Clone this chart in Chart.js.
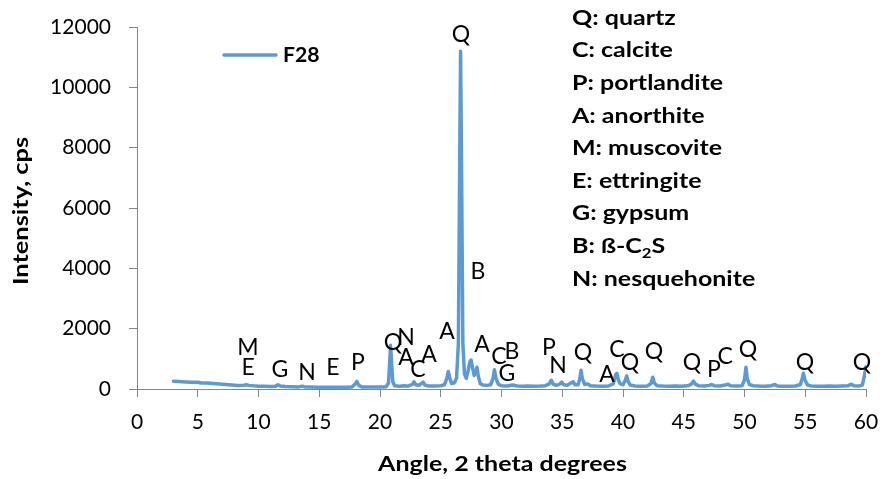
<!DOCTYPE html>
<html>
<head>
<meta charset="utf-8">
<script src="https://cdn.jsdelivr.net/npm/chart.js@4.4.1/dist/chart.umd.min.js"></script>
<style>
  html, body { margin: 0; padding: 0; background: #fff; }
  #wrap { width: 883px; height: 479px; }
</style>
</head>
<body>
<div id="wrap"><canvas id="c" width="883" height="479"></canvas></div>
<script>
// ---- data ----
const seriesName = "F28";
const xTitle = "Angle, 2 theta degrees";
const yTitle = "Intensity, cps";
const angles = [
  3.0, 3.5, 4.0, 4.5, 5.0, 5.3, 5.8, 6.3, 6.8, 7.3, 7.8, 8.3, 8.8, 9.0, 9.2, 9.6, 10.0, 10.5, 11.0, 11.4,
  11.6, 11.8, 12.2, 12.8, 13.3, 13.6, 13.8, 14.3, 14.8, 15.3, 15.8, 16.3, 16.8, 17.3, 17.7, 18.0, 18.1, 18.25, 18.5, 19.0,
  19.5, 20.0, 20.5, 20.7, 20.8, 20.87, 20.95, 21.05, 21.2, 21.6, 22.0, 22.3, 22.7, 22.8, 22.95, 23.2, 23.45, 23.55, 23.7, 24.0,
  24.5, 25.0, 25.3, 25.5, 25.62, 25.75, 25.9, 26.1, 26.3, 26.45, 26.55, 26.63, 26.72, 26.82, 26.95, 27.1, 27.25, 27.4, 27.5, 27.62,
  27.75, 27.9, 27.98, 28.08, 28.25, 28.5, 28.8, 29.1, 29.3, 29.42, 29.55, 29.75, 30.0, 30.5, 30.9, 31.3, 31.8, 32.2, 32.7, 33.2,
  33.6, 33.9, 34.1, 34.25, 34.5, 34.8, 34.95, 35.1, 35.4, 35.75, 35.9, 36.05, 36.3, 36.45, 36.55, 36.65, 36.85, 37.1, 37.3, 37.8,
  38.3, 38.8, 39.2, 39.4, 39.5, 39.62, 39.75, 40.0, 40.2, 40.3, 40.42, 40.6, 41.0, 41.5, 42.0, 42.3, 42.45, 42.58, 42.8, 43.3,
  43.8, 44.3, 44.8, 45.3, 45.6, 45.8, 45.95, 46.2, 46.7, 47.1, 47.3, 47.5, 48.0, 48.5, 48.65, 48.85, 49.3, 49.8, 50.0, 50.12,
  50.22, 50.4, 50.7, 51.2, 51.7, 52.2, 52.5, 52.7, 53.2, 53.7, 54.2, 54.6, 54.75, 54.85, 54.98, 55.2, 55.5, 56.0, 56.5, 57.0,
  57.5, 58.0, 58.5, 58.8, 59.0, 59.4, 59.7, 59.85, 60.0
];
const counts = [
  260, 245, 235, 220, 225, 200, 195, 180, 165, 150, 135, 120, 125, 140, 120, 105, 95, 90, 85, 90,
  140, 100, 80, 75, 70, 95, 70, 65, 60, 60, 58, 62, 60, 62, 70, 180, 250, 120, 70, 65,
  68, 70, 75, 200, 900, 1450, 900, 250, 110, 90, 110, 95, 160, 240, 140, 120, 190, 230, 130, 100,
  100, 110, 140, 350, 580, 350, 180, 200, 350, 1500, 7000, 11200, 7000, 1500, 500, 350, 600, 900, 960, 700,
  450, 600, 720, 450, 180, 130, 120, 140, 350, 640, 350, 150, 110, 100, 130, 100, 95, 100, 95, 100,
  110, 160, 290, 160, 120, 160, 230, 150, 120, 210, 240, 140, 140, 350, 620, 350, 150, 170, 110, 100,
  95, 100, 170, 480, 520, 300, 180, 140, 300, 430, 250, 130, 100, 95, 100, 180, 390, 200, 110, 100,
  95, 100, 95, 105, 150, 260, 160, 110, 100, 120, 150, 110, 100, 140, 160, 110, 100, 110, 300, 720,
  350, 150, 110, 100, 95, 110, 150, 100, 95, 95, 100, 150, 350, 520, 300, 130, 100, 95, 95, 100,
  95, 100, 105, 160, 110, 100, 130, 400, 740
];
const xTicks = { min: 0, max: 60, step: 5 };
const yTicks = { min: 0, max: 12000, step: 2000 };
// peak annotations: letter, angle, intensity
const peakLetters = ["Q","B","Q","N","A","C","A","A","A","C","B","G","M","E","G","N","E","P","P","N","Q","A","C","Q","Q","Q","P","C","Q","Q","Q"];
const peakAngles  = [26.67,28.07,21.07,22.14,22.14,23.13,24.03,25.51,28.40,29.79,30.86,30.45,9.14,9.14,11.77,13.99,16.13,18.19,33.91,34.65,36.71,38.68,39.51,40.58,42.55,45.68,47.49,48.40,50.29,54.98,59.67];
const peakHeights = [11733,3878,1525,1690,1028,630,1127,1889,1458,1061,1226,497,1359,696,630,530,696,862,1359,762,1193,464,1293,862,1226,862,630,1061,1293,862,862];
const phaseKey = ["Q: quartz","C: calcite","P: portlandite","A: anorthite","M: muscovite","E: ettringite","G: gypsum","B: ß-C|2|S","N: nesquehonite"];

// ---- chart ----
const LINE = "#5B9BD5";
const AXIS = "#868686";
const FONT = "Lato";
const STRETCH = 1.19;

const points = angles.map((a, i) => ({ x: a, y: counts[i] }));

function stretchedText(ctx, text, x, y, sx, align) {
  const w = ctx.measureText(text).width * sx;
  let x0 = x;
  if (align === "center") x0 = x - w / 2;
  ctx.save();
  ctx.translate(x0, y);
  ctx.scale(sx, 1);
  ctx.textAlign = "left";
  ctx.fillText(text, 0, 0);
  ctx.restore();
  return w;
}

const annotations = {
  id: "annotations",
  afterDraw(chart) {
    const ctx = chart.ctx;
    const xs = chart.scales.x, ys = chart.scales.y;
    const area = chart.chartArea;
    ctx.save();
    ctx.fillStyle = "#000";
    ctx.font = "23px " + FONT;
    ctx.textAlign = "center";
    ctx.textBaseline = "middle";
    peakLetters.forEach((t, i) => {
      ctx.fillText(t, xs.getPixelForValue(peakAngles[i]), ys.getPixelForValue(peakHeights[i]));
    });
    // axis titles
    ctx.textBaseline = "alphabetic";
    ctx.font = "bold 20px " + FONT;
    stretchedText(ctx, xTitle, (area.left + area.right) / 2 + 1, 471, 1.25, "center");
    ctx.save();
    ctx.translate(28, (area.top + area.bottom) / 2 + 3);
    ctx.rotate(-Math.PI / 2);
    stretchedText(ctx, yTitle, 0, 0, 1.27, "center");
    ctx.restore();
    // series legend
    ctx.textBaseline = "middle";
    const ds = chart.data.datasets[0];
    ctx.strokeStyle = ds.borderColor;
    ctx.lineWidth = 3.5;
    ctx.lineCap = "round";
    ctx.beginPath();
    ctx.moveTo(224, 55);
    ctx.lineTo(276, 55);
    ctx.stroke();
    ctx.font = "bold 20px " + FONT;
    stretchedText(ctx, ds.label, 283, 56, 1.06, "left");
    // phase key
    phaseKey.forEach((line, i) => {
      const y = 18 + i * 32.6;
      const parts = line.split("|");
      let x = 572;
      parts.forEach((p, j) => {
        if (j % 2 === 1) {
          ctx.font = "bold 14px " + FONT;
          x += stretchedText(ctx, p, x, y + 7, STRETCH, "left");
        } else {
          ctx.font = "bold 21px " + FONT;
          x += stretchedText(ctx, p, x, y, STRETCH, "left");
        }
      });
    });
    ctx.restore();
  }
};

new Chart(document.getElementById("c"), {
  type: "line",
  data: {
    datasets: [{
      label: seriesName,
      data: points,
      borderColor: LINE,
      backgroundColor: LINE,
      borderWidth: 3.5,
      pointRadius: 0,
      tension: 0,
      borderJoinStyle: "round",
      borderCapStyle: "round"
    }]
  },
  options: {
    responsive: false,
    animation: false,
    devicePixelRatio: 1,
    layout: { padding: { top: 27, right: 17, left: 0, bottom: 0 } },
    plugins: { legend: { display: false }, tooltip: { enabled: false } },
    scales: {
      x: {
        type: "linear",
        min: xTicks.min, max: xTicks.max,
        afterFit(s) { s.height = 90; s.paddingLeft = 0; s.paddingRight = 0; },
        ticks: { stepSize: xTicks.step, color: "#000", font: { family: FONT, size: 21 }, padding: 13, maxRotation: 0 },
        grid: { display: true, drawOnChartArea: false, drawTicks: true, tickLength: 8, color: AXIS },
        border: { display: true, color: AXIS, width: 1 },
        title: { display: false, text: xTitle }
      },
      y: {
        min: yTicks.min, max: yTicks.max,
        afterFit(s) { s.width = 137; s.paddingTop = 0; s.paddingBottom = 0; },
        ticks: { stepSize: yTicks.step, color: "#000", font: { family: FONT, size: 21 }, padding: 18, callback: v => String(v) },
        grid: { display: true, drawOnChartArea: false, drawTicks: true, tickLength: 8, color: AXIS },
        border: { display: true, color: AXIS, width: 1 },
        title: { display: false, text: yTitle }
      }
    }
  },
  plugins: [annotations]
});
</script>
</body>
</html>
